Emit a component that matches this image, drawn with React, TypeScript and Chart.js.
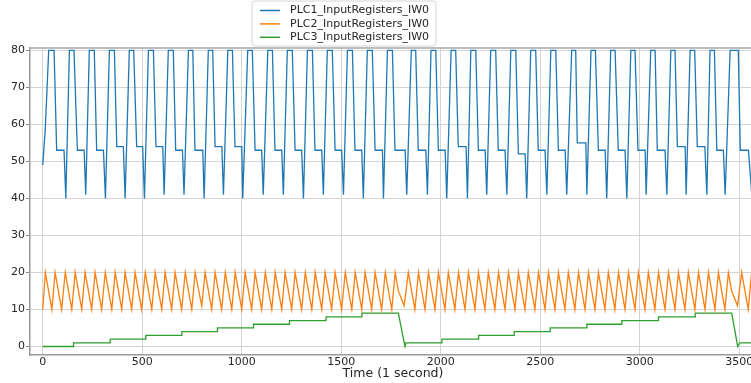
import React, { useEffect, useRef } from "react";
import { Chart, registerables } from "chart.js";

Chart.register(...registerables);

const seriesLabels = ["PLC1_InputRegisters_IW0", "PLC2_InputRegisters_IW0", "PLC3_InputRegisters_IW0"];
const seriesColors = ["#1f77b4", "#ff7f0e", "#2ca02c"];
const xTitle = "Time (1 second)";
const xRange = [-64, 3584];
const yRange = [-2.3, 80.62];
const xTickValues = [0, 500, 1000, 1500, 2000, 2500, 3000, 3500];
const yTickValues = [0, 10, 20, 30, 40, 50, 60, 70, 80];

const plc1: [number, number][] = [
  [0, 49], [13, 59], [30, 80],
  [57, 80], [70, 53], [107, 53], [116, 40],
  [134, 80], [157, 80], [174, 53], [208, 53], [216, 41],
  [234, 80], [259, 80], [271, 53], [305, 53], [315, 40],
  [335, 80], [360, 80], [372, 54], [405, 54], [414, 40],
  [435, 80], [457, 80], [472, 54], [502, 54], [511, 40],
  [531, 80], [556, 80], [569, 54], [603, 54], [610, 41],
  [631, 80], [656, 80], [668, 53], [702, 53], [710, 41],
  [732, 80], [754, 80], [765, 53], [804, 53], [811, 40],
  [832, 80], [854, 80], [866, 54], [900, 54], [908, 41],
  [930, 80], [953, 80], [966, 54], [1000, 54], [1005, 40],
  [1030, 80], [1053, 80], [1067, 53], [1100, 53], [1108, 41],
  [1131, 80], [1154, 80], [1167, 53], [1201, 53], [1209, 41],
  [1229, 80], [1254, 80], [1268, 53], [1301, 53], [1310, 40],
  [1330, 80], [1355, 80], [1368, 53], [1402, 53], [1410, 41],
  [1430, 80], [1455, 80], [1469, 53], [1502, 53], [1511, 41],
  [1531, 80], [1556, 80], [1569, 53], [1603, 53], [1611, 40],
  [1631, 80], [1656, 80], [1670, 53], [1707, 53], [1712, 40],
  [1732, 80], [1757, 80], [1770, 53], [1821, 53], [1829, 41],
  [1852, 80], [1874, 80], [1887, 53], [1925, 53], [1933, 41],
  [1951, 80], [1975, 80], [1988, 53], [2022, 53], [2030, 40],
  [2052, 80], [2075, 80], [2088, 54], [2127, 54], [2134, 40],
  [2151, 80], [2176, 80], [2189, 53], [2223, 53], [2231, 41],
  [2251, 80], [2276, 80], [2289, 53], [2323, 53], [2332, 41],
  [2352, 80], [2377, 80], [2390, 52], [2424, 52], [2432, 40],
  [2452, 80], [2477, 80], [2490, 53], [2524, 53], [2533, 41],
  [2553, 80], [2578, 80], [2591, 53], [2625, 53], [2633, 41],
  [2658, 80], [2678, 80], [2686, 55], [2729, 55], [2734, 41],
  [2755, 80], [2777, 80], [2792, 53], [2826, 53], [2834, 40],
  [2854, 80], [2876, 80], [2892, 53], [2926, 53], [2935, 40],
  [2955, 80], [2976, 80], [2991, 53], [3027, 53], [3032, 41],
  [3055, 80], [3077, 80], [3088, 53], [3127, 53], [3136, 41],
  [3156, 80], [3177, 80], [3189, 54], [3228, 54], [3233, 41],
  [3253, 80], [3276, 80], [3289, 54], [3327, 54], [3337, 41],
  [3353, 80], [3375, 80], [3387, 53], [3420, 53], [3429, 41],
  [3454, 80], [3495, 80], [3505, 53], [3546, 53], [3563, 41], [3580, 80],
];

const plc2: [number, number][] = [
  [0, 10], [13, 20], [46, 10], [62, 20], [95, 10], [113, 20], [146, 10], [163, 20],
  [196, 10], [213, 20], [246, 10], [263, 20], [296, 10], [314, 20], [347, 10], [364, 20],
  [397, 10], [414, 20], [447, 10], [464, 20], [497, 10], [515, 20], [548, 10], [565, 20],
  [598, 10], [615, 20], [648, 10], [665, 20], [698, 10], [716, 20], [749, 10], [766, 20],
  [799, 11], [816, 20], [849, 10], [866, 20], [899, 10], [917, 20], [950, 10], [967, 20],
  [1000, 10], [1017, 20], [1050, 10], [1067, 20], [1100, 10], [1118, 20], [1151, 10], [1168, 20],
  [1201, 10], [1218, 20], [1251, 10], [1268, 20], [1301, 10], [1319, 20], [1352, 10], [1369, 20],
  [1402, 10], [1419, 20], [1452, 10], [1469, 20], [1502, 10], [1520, 20], [1553, 10], [1570, 20],
  [1603, 10], [1620, 20], [1653, 10], [1670, 20], [1703, 10], [1721, 20], [1754, 10], [1771, 20],
  [1787, 15], [1816, 11], [1837, 20], [1870, 10], [1888, 20], [1921, 10], [1938, 20], [1971, 10],
  [1988, 20], [2021, 10], [2038, 20], [2071, 10], [2089, 20], [2122, 10], [2139, 20], [2172, 10],
  [2189, 20], [2222, 10], [2239, 20], [2272, 10], [2290, 20], [2323, 10], [2340, 20], [2373, 10],
  [2390, 20], [2423, 10], [2440, 20], [2473, 10], [2491, 20], [2524, 10], [2541, 20], [2574, 10],
  [2591, 20], [2624, 10], [2641, 20], [2674, 10], [2692, 20], [2725, 10], [2742, 20], [2775, 10],
  [2792, 20], [2825, 10], [2842, 20], [2875, 10], [2893, 20], [2926, 10], [2943, 20], [2976, 10],
  [2993, 20], [3026, 10], [3043, 20], [3076, 10], [3094, 20], [3127, 10], [3144, 20], [3177, 10],
  [3194, 20], [3227, 10], [3244, 20], [3277, 10], [3295, 20], [3328, 10], [3345, 20], [3378, 10],
  [3395, 20], [3428, 10], [3445, 20], [3462, 15], [3491, 11], [3512, 20], [3545, 10], [3562, 20],
  [3595, 10],
];

const plc3: [number, number][] = [
  [0, 0], [154, 0], [155, 1], [338, 1], [339, 2], [517, 2], [518, 3], [698, 3], [699, 4],
  [877, 4], [878, 5], [1058, 5], [1059, 6], [1239, 6], [1240, 7], [1423, 7], [1424, 8],
  [1603, 8], [1604, 9], [1787, 9], [1820, 0], [1825, 1], [2005, 1], [2006, 2], [2189, 2],
  [2190, 3], [2368, 3], [2369, 4], [2549, 4], [2550, 5], [2733, 5], [2734, 6], [2909, 6],
  [2910, 7], [3093, 7], [3094, 8], [3278, 8], [3279, 9], [3462, 9], [3492, 0], [3502, 1],
  [3600, 1],
];

const FONT = "'DejaVu Sans', sans-serif";

const legendPlugin = {
  id: "mplLegend",
  afterDraw(chart: any) {
    const ctx = chart.ctx;
    ctx.save();
    const x0 = 252, y0 = 1, w = 184, h = 45, r = 3;
    ctx.beginPath();
    ctx.moveTo(x0 + r, y0);
    ctx.lineTo(x0 + w - r, y0);
    ctx.quadraticCurveTo(x0 + w, y0, x0 + w, y0 + r);
    ctx.lineTo(x0 + w, y0 + h - r);
    ctx.quadraticCurveTo(x0 + w, y0 + h, x0 + w - r, y0 + h);
    ctx.lineTo(x0 + r, y0 + h);
    ctx.quadraticCurveTo(x0, y0 + h, x0, y0 + h - r);
    ctx.lineTo(x0, y0 + r);
    ctx.quadraticCurveTo(x0, y0, x0 + r, y0);
    ctx.closePath();
    ctx.fillStyle = "rgba(255,255,255,0.85)";
    ctx.fill();
    ctx.strokeStyle = "#d6d6d6";
    ctx.lineWidth = 1;
    ctx.stroke();
    ctx.font = `11px ${FONT}`;
    ctx.textBaseline = "middle";
    ctx.textAlign = "left";
    seriesLabels.forEach((label, i) => {
      const y = 10.5 + i * 13.4;
      ctx.strokeStyle = seriesColors[i];
      ctx.lineWidth = 1.5;
      ctx.beginPath();
      ctx.moveTo(260, y);
      ctx.lineTo(280, y);
      ctx.stroke();
      ctx.fillStyle = "#262626";
      ctx.fillText(label, 290, y);
    });
    ctx.restore();
  },
};

const frameTopPlugin = {
  id: "frameTop",
  afterDatasetsDraw(chart: any) {
    const { ctx, chartArea } = chart;
    ctx.save();
    ctx.strokeStyle = "#a8a8a8";
    ctx.lineWidth = 1.5;
    ctx.beginPath();
    ctx.moveTo(chartArea.left, chartArea.top);
    ctx.lineTo(chartArea.right, chartArea.top);
    ctx.moveTo(chartArea.right, chartArea.top);
    ctx.lineTo(chartArea.right, chartArea.bottom);
    ctx.stroke();
    ctx.restore();
  },
};

export default function App() {
  const ref = useRef<HTMLCanvasElement>(null);

  useEffect(() => {
    if (!ref.current) return;
    const series = [plc1, plc2, plc3];
    const chart = new Chart(ref.current, {
      type: "line",
      data: {
        datasets: series.map((s, i) => ({
          label: seriesLabels[i],
          data: s.map(([x, y]) => ({ x, y })),
          borderColor: seriesColors[i],
          backgroundColor: seriesColors[i],
          borderWidth: 1.3,
          pointRadius: 0,
          tension: 0,
          fill: false,
        })),
      },
      options: {
        responsive: false,
        animation: false,
        devicePixelRatio: 1,
        layout: { padding: { top: 48, left: 0, right: 14, bottom: 0 } },
        plugins: {
          legend: { display: false },
          tooltip: { enabled: false },
        },
        scales: {
          x: {
            type: "linear",
            min: xRange[0],
            max: xRange[1],
            afterFit: (scale: any) => {
              scale.height = 28;
            },
            afterBuildTicks: (scale: any) => {
              scale.ticks = xTickValues.map((v) => ({ value: v }));
            },
            ticks: {
              autoSkip: false,
              maxRotation: 0,
              padding: 1,
              color: "#262626",
              font: { family: FONT, size: 11 },
              callback: (v: any) => String(v),
            },
            grid: {
              color: "#d4d4d4",
              lineWidth: 1,
              drawTicks: false,
            },
            border: { display: true, color: "#9a9a9a", width: 1.5 },
            title: {
              display: true,
              text: xTitle,
              color: "#262626",
              font: { family: FONT, size: 12.5 },
              padding: { top: 0, bottom: 1.5 },
            },
          },
          y: {
            type: "linear",
            min: yRange[0],
            max: yRange[1],
            afterFit: (scale: any) => {
              scale.width = 30;
            },
            afterBuildTicks: (scale: any) => {
              scale.ticks = yTickValues.map((v) => ({ value: v }));
            },
            ticks: {
              autoSkip: false,
              padding: 1,
              color: "#262626",
              font: { family: FONT, size: 11 },
              callback: (v: any) => String(v),
            },
            grid: {
              color: "#d4d4d4",
              lineWidth: 1,
              drawTicks: true,
              tickLength: 4,
              tickColor: "#8a8a8a",
            },
            border: { display: true, color: "#9a9a9a", width: 1.5 },
          },
        },
      },
      plugins: [frameTopPlugin, legendPlugin],
    });
    return () => chart.destroy();
  }, []);

  return (
    <div
      style={{
        position: "fixed",
        left: 0,
        top: 0,
        width: 751,
        height: 383,
        overflow: "hidden",
        background: "#fff",
      }}
    >
      <canvas ref={ref} width={770} height={383} style={{ display: "block", width: 770, height: 383 }} />
    </div>
  );
}
